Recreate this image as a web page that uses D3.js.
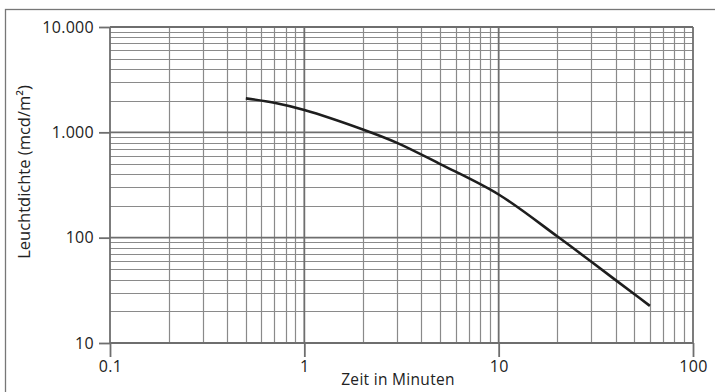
<!DOCTYPE html>
<html>
<head>
<meta charset="utf-8">
<script src="https://cdn.jsdelivr.net/npm/d3@7"></script>
<style>
  body { margin: 0; background: #fff; }
  text { font-family: "Open Sans", "Noto Sans", sans-serif; fill: #222; }
</style>
</head>
<body>
<div id="chart"></div>
<script>
// curve: minutes -> mcd/m²
const minutes = [0.5, 0.7, 1, 2, 3, 5, 10, 20, 30, 40, 50, 60];
const luminance = [2100, 1910, 1630, 1065, 795, 500, 257, 103, 59, 39.5, 29, 22.5];

const xTicks = [0.1, 1, 10, 100];
const xTickLabels = ["0.1", "1", "10", "100"];
const yTicks = [10, 100, 1000, 10000];
const yTickLabels = ["10", "100", "1.000", "10.000"];

const W = 715, H = 392;
const margin = {top: 27, right: 22, bottom: 49, left: 110},
    width = W - margin.left - margin.right,
    height = H - margin.top - margin.bottom;

const svg = d3.select("#chart").append("svg")
    .attr("width", W)
    .attr("height", H);

// outer frame (only top and left visible in the reference)
svg.append("rect")
    .attr("x", 5.5).attr("y", 9.5)
    .attr("width", W + 20).attr("height", H + 20)
    .attr("fill", "none")
    .attr("stroke", "#777")
    .attr("stroke-width", 1.3);

const g = svg.append("g")
    .attr("transform", `translate(${margin.left}, ${margin.top})`);

const x = d3.scaleLog().domain([0.1, 100]).range([0, width]);
const y = d3.scaleLog().domain([10, 10000]).range([height, 0]);

// minor grid: 2..9 per decade
const minorX = [], minorY = [];
[0.1, 1, 10].forEach(d => { for (let k = 2; k <= 9; k++) minorX.push(d * k); });
[10, 100, 1000].forEach(d => { for (let k = 2; k <= 9; k++) minorY.push(d * k); });

g.append("g").selectAll("line").data(minorX).join("line")
    .attr("x1", d => Math.round(x(d)) + 0.5).attr("x2", d => Math.round(x(d)) + 0.5)
    .attr("y1", 0).attr("y2", height)
    .attr("stroke", "#8a8a8a").attr("stroke-width", 1.2);

g.append("g").selectAll("line").data(minorY).join("line")
    .attr("y1", d => Math.round(y(d)) + 0.5).attr("y2", d => Math.round(y(d)) + 0.5)
    .attr("x1", 0).attr("x2", width)
    .attr("stroke", "#8a8a8a").attr("stroke-width", 1.2);

// decade lines
g.append("g").selectAll("line").data(xTicks).join("line")
    .attr("x1", d => x(d)).attr("x2", d => x(d))
    .attr("y1", 0).attr("y2", height)
    .attr("stroke", "#6e6e6e").attr("stroke-width", 1.8);

g.append("g").selectAll("line").data(yTicks).join("line")
    .attr("y1", d => y(d)).attr("y2", d => y(d))
    .attr("x1", 0).attr("x2", width)
    .attr("stroke", "#6e6e6e").attr("stroke-width", 1.8);

// axes with outward decade ticks
const xAxis = d3.axisBottom(x).tickValues(xTicks)
    .tickFormat((d, i) => xTickLabels[i]).tickSize(14).tickPadding(4);
const yAxis = d3.axisLeft(y).tickValues(yTicks)
    .tickFormat((d, i) => yTickLabels[i]).tickSize(11).tickPadding(5);

const gx = g.append("g").attr("transform", `translate(0, ${height})`).call(xAxis);
const gy = g.append("g").call(yAxis);

[gx, gy].forEach(a => {
  a.select(".domain").remove();
  a.selectAll(".tick line").attr("stroke", "#6e6e6e").attr("stroke-width", 1.8);
  a.selectAll(".tick text")
      .style("font-family", '"Open Sans", "Noto Sans", sans-serif')
      .style("font-size", "16px")
      .style("letter-spacing", "0.3px")
      .attr("fill", "#222");
});

// curve
const line = d3.line()
    .x((d, i) => x(minutes[i]))
    .y(d => y(d))
    .curve(d3.curveCatmullRom.alpha(0.5));

g.append("path")
    .datum(luminance)
    .attr("fill", "none")
    .attr("stroke", "#1e1e1e")
    .attr("stroke-width", 2.6)
    .attr("d", line);

// axis titles
svg.append("text")
    .attr("x", 398).attr("y", 385)
    .attr("text-anchor", "middle")
    .style("font-size", "15.5px")
    .style("letter-spacing", "0.3px")
    .text("Zeit in Minuten");

svg.append("text")
    .attr("transform", "translate(30, 172) rotate(-90)")
    .attr("text-anchor", "middle")
    .style("font-size", "16.5px")
    .text("Leuchtdichte (mcd/m²)");
</script>
</body>
</html>
